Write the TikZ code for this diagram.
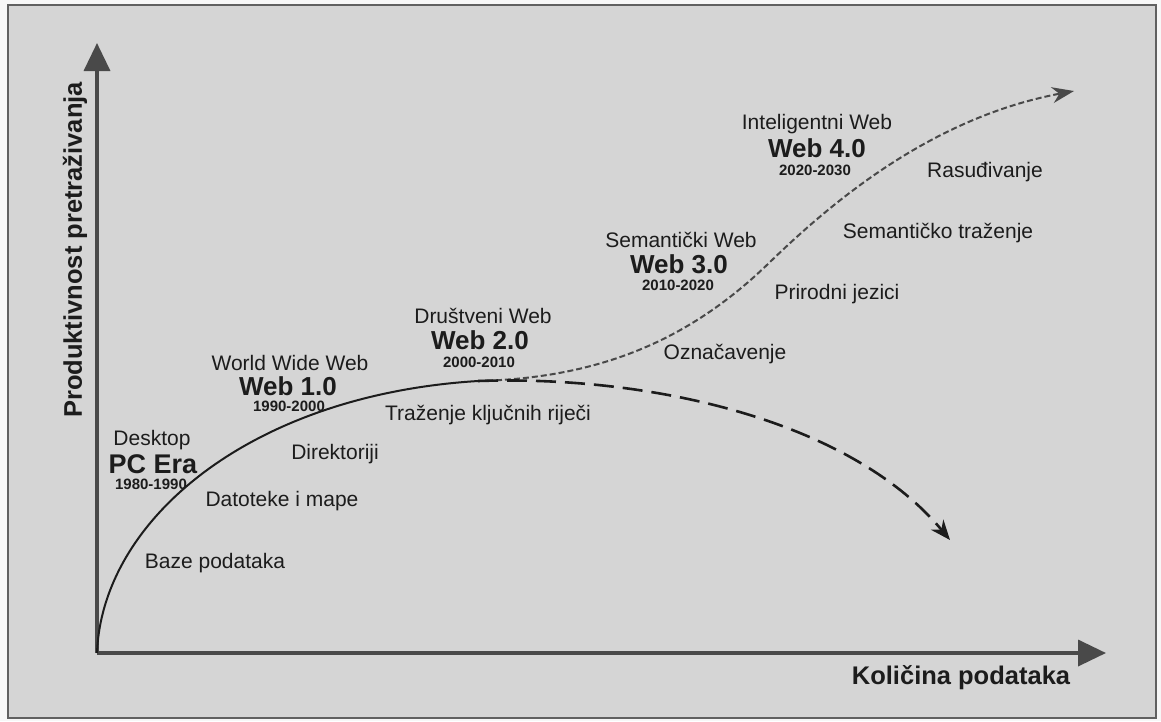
\documentclass[tikz,border=0pt]{standalone}
\usepackage{xcolor}
\usepackage{fontspec}
\setmainfont{Liberation Sans}
\usepackage{tikz}
\usetikzlibrary{arrows.meta,positioning}

\definecolor{panelgray}{RGB}{213,213,213}
\definecolor{inkgray}{RGB}{28,28,28}

\tikzset{
    axisline/.style={line width=3.6pt, draw=inkgray!80, -{Triangle[length=28pt,width=26pt]}},
    growth/.style={line width=2pt, draw=inkgray},
    riseline/.style={line width=2pt, draw=inkgray!80, dash pattern=on 6pt off 3pt, -{Stealth[length=22pt,width=16pt]}},
    fallline/.style={line width=2.6pt, draw=inkgray, dash pattern=on 20pt off 9pt, -{Stealth[length=20pt,width=16pt]}},
    eraname/.style={font=\fontsize{21}{23}\selectfont, text=inkgray, inner sep=0pt},
    webname/.style={font=\bfseries\fontsize{26}{28}\selectfont, text=inkgray, inner sep=0pt},
    years/.style={font=\bfseries\fontsize{15}{16}\selectfont, text=inkgray, inner sep=0pt},
    tech/.style={font=\fontsize{21}{23}\selectfont, text=inkgray, inner sep=0pt},
    axislabel/.style={font=\bfseries\fontsize{25.5}{27}\selectfont, text=inkgray, inner sep=0pt}
}

\begin{document}
\begin{tikzpicture}[x=1pt,y=-1pt]
                \useasboundingbox (0,0) rectangle (1161,721);
                \fill[gray!6] (0,0) rectangle (1161,721);

                % panel
                \draw[
                    line width=2pt,
                    draw=inkgray!70,
                    fill=panelgray
                    ] (8,5) rectangle (1156,718);

                % axes
                \coordinate (origin) at (97,653);
                \coordinate (ytip) at (97,43);
                \coordinate (xtip) at (1106,653);
                \draw[axisline] (origin) -- (ytip);
                \draw[axisline] (origin) -- (xtip);

                \node[axislabel, rotate=90] (ylab) at (75,250) {Produktivnost pretraživanja};
                \node[axislabel] (xlab) at (961,678) {Količina podataka};

                % curves
                \coordinate (split) at (478,381);
                \coordinate (upend) at (1074,91);
                \coordinate (downend) at (950,540);

                \draw[growth] (origin) .. controls (102,520) and (250,395) .. (split);
                \draw[riseline] (split) .. controls (600,378) and (690,340) .. (770,262)
                                .. controls (830,204) and (930,118) .. (upend);
                \draw[fallline] (split) .. controls (650,375) and (850,420) .. (downend);

                % eras
                \node[eraname] (pcera) at (152,440) {Desktop};
                \node[webname, font=\bfseries\fontsize{27}{29}\selectfont] (pcweb) at (153,464) {PC Era};
                \node[years] (pcyears) at (151,484) {1980-1990};

                \node[eraname] (wwweb) at (290,363) {World Wide Web};
                \node[webname] (webone) at (288,386) {Web 1.0};
                \node[years] (oneyears) at (289,406) {1990-2000};

                \node[eraname] (socweb) at (483,316) {Društveni Web};
                \node[webname] (webtwo) at (480,340) {Web 2.0};
                \node[years] (twoyears) at (479,362) {2000-2010};

                \node[eraname] (semweb) at (681,240) {Semantički Web};
                \node[webname] (webthree) at (679,264) {Web 3.0};
                \node[years] (threeyears) at (678,285) {2010-2020};

                \node[eraname] (intweb) at (817,124) {Inteligentni Web};
                \node[webname] (webfour) at (817,148) {Web 4.0};
                \node[years] (fouryears) at (815,170) {2020-2030};

                % search techniques
                \node[tech] (baze) at (215,563) {Baze podataka};
                \node[tech] (datoteke) at (282,501) {Datoteke i mape};
                \node[tech] (direktoriji) at (335,454) {Direktoriji};
                \node[tech] (trazenje) at (488,415) {Traženje ključnih riječi};
                \node[tech] (oznacavanje) at (725,354) {Označavenje};
                \node[tech] (jezici) at (837,294) {Prirodni jezici};
                \node[tech] (semtrazenje) at (938,233) {Semantičko traženje};
                \node[tech] (rasudivanje) at (985,172) {Rasuđivanje};

            \end{tikzpicture}
\end{document}
